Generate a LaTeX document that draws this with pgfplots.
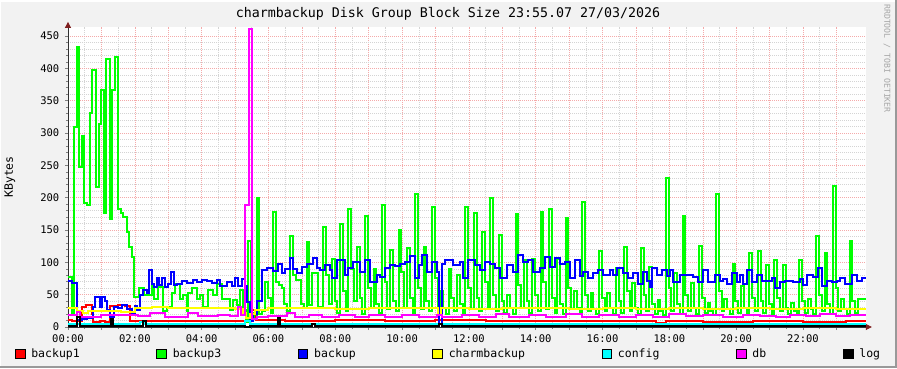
\documentclass[border=0pt]{standalone}
\usepackage{fontspec}
\setmainfont{DejaVu Sans Mono}
\usepackage{pgfplots}
\pgfplotsset{compat=1.18}
\usetikzlibrary{arrows.meta}
\definecolor{bg}{HTML}{F2F2F2}
\definecolor{mgrid}{HTML}{F4AAAA}
\definecolor{ngrid}{HTML}{D4D4D4}
\definecolor{arrowc}{HTML}{7F1F1F}
\definecolor{axisc}{HTML}{303030}
\definecolor{cred}{HTML}{FF0000}
\definecolor{cgreen}{HTML}{00FF00}
\definecolor{cblue}{HTML}{0000FF}
\definecolor{cyellow}{HTML}{FFFF00}
\definecolor{ccyan}{HTML}{00FFFF}
\definecolor{cmag}{HTML}{FF00FF}
\definecolor{cblack}{HTML}{000000}
\begin{document}
\begin{tikzpicture}[x=1pt,y=1pt]
\path[use as bounding box] (-68,-41) rectangle (829,327);
\fill[bg] (-68,-41) rectangle (829,327);
\draw[white, line width=1.5pt] (-67.25,-41) -- (-67.25,326.25) -- (829,326.25);
\draw[black!40, line width=2pt] (-68,-40) -- (828,-40) -- (828,327);
\begin{axis}[
  at={(0,0)}, anchor=south west,
  scale only axis, width=797.8pt, height=300.1pt,
  xmin=0, xmax=23.88, ymin=0, ymax=464,
  axis background/.style={fill=white},
  axis x line*=bottom, axis y line*=left,
  x axis line style={axisc, line width=0.8pt, shorten >=-6pt, -{Triangle[length=6pt,width=6pt,color=arrowc]}},
  y axis line style={axisc, line width=0.8pt, shorten >=-5pt, -{Triangle[length=6pt,width=6pt,color=arrowc]}},
  xtick={0,1,...,23},
  xticklabels={00:00,,02:00,,04:00,,06:00,,08:00,,10:00,,12:00,,14:00,,16:00,,18:00,,20:00,,22:00,},
  minor x tick num=1,
  ytick={0,50,...,450}, minor y tick num=4,
  grid=both,
  major grid style={mgrid, dash pattern=on 1pt off 1pt, line width=0.5pt},
  minor grid style={ngrid, dash pattern=on 1pt off 1pt, line width=0.5pt},
  tick align=outside, major tick length=3pt, minor tick length=2pt,
  tick style={black!50, line width=0.5pt},
  /pgf/number format/assume math mode=true,
  xticklabel style={anchor=base, yshift=-12pt, font=\fontsize{10.5}{12}\selectfont},
  yticklabel style={anchor=east, inner sep=0pt, xshift=-5.5pt, font=\fontsize{10.5}{12}\selectfont},
  every axis y label/.style={at={(axis description cs:-0.0727,0.5)}, rotate=90, anchor=center, font=\fontsize{11.5}{13}\selectfont},
  ylabel={KBytes},
  title={charmbackup Disk Group Block Size 23:55.07 27/03/2026},
  title style={at={(axis description cs:0.4763,1.0097)}, anchor=base, inner sep=0pt, font=\fontsize{13.3}{16}\selectfont},
  legend columns=7,
  legend cell align=left,
  legend image code/.code={\draw[#1, draw=black, line width=0.8pt] (0pt,-4.7pt) rectangle (9.5pt,4.7pt);},
  legend style={at={(axis description cs:-0.0664,-0.09)}, anchor=west, draw=none, fill=none,
    inner sep=0pt, outer sep=0pt, font=\fontsize{11.5}{13}\selectfont, nodes={inner sep=0pt},
    column sep=0pt,
    /tikz/every odd column/.append style={column sep=6pt},
    /tikz/every even column/.append style={column sep=76.7pt}},
  every axis plot/.append style={const plot, line width=2pt, forget plot},
]
\addlegendimage{fill=cred}\addlegendentry{backup1}
\addlegendimage{fill=cgreen}\addlegendentry{backup3}
\addlegendimage{fill=cblue}\addlegendentry{backup}
\addlegendimage{fill=cyellow}\addlegendentry{charmbackup}
\addlegendimage{fill=ccyan}\addlegendentry{config}
\addlegendimage{fill=cmag}\addlegendentry{db}
\addlegendimage{fill=cblack}\addlegendentry{log}

% backup1
\addplot[cred] coordinates {(0,11) (0.13,9) (0.41,31) (0.55,34) (0.71,20) (0.76,8) (0.95,10) (1.1,8) (1.26,32) (1.5,34) (1.7,32) (1.86,9) (2.3,10) (3.0,9) (4.0,10) (4.6,9) (5.3,10) (5.52,27) (5.62,11) (6.5,10) (8.0,11) (9.5,10) (11.0,11) (12.5,10) (14.0,9) (15.5,10) (17.0,9) (17.6,6) (17.9,9) (19.0,8) (20.5,9) (22.0,8) (23.3,10) (23.88,10)};

% backup3
\addplot[cgreen] coordinates {
(0,78) (0.11,21) (0.18,309) (0.26,433) (0.33,248) (0.41,295) (0.49,192) (0.58,189) (0.66,331) (0.73,398) (0.84,217) (0.93,314) (1.0,367) (1.07,177) (1.15,414) (1.25,167) (1.33,367) (1.41,417) (1.51,182) (1.59,177) (1.66,170) (1.76,147) (1.83,124) (1.91,109) (1.98,47)
(2.135,61) (2.275,50) (2.505,66) (2.574,44) (2.704,62) (2.853,24) (2.953,31) (3.103,52) (3.203,67) (3.352,44) (3.432,50) (3.552,24) (3.601,52) (3.701,60) (3.851,44) (3.951,50) (4.05,31) (4.2,57) (4.35,50) (4.45,67) (4.6,44) (4.849,26) (4.949,41) (5.049,34) (5.148,57) (5.248,26) (5.33,8)
(5.395,133) (5.478,22) (5.562,12)
(5.645,200) (5.728,20) (5.812,25)
(5.895,70) (5.978,45) (6.062,22)
(6.145,178) (6.228,70) (6.312,65)
(6.395,61) (6.478,36) (6.562,25)
(6.645,141) (6.728,80) (6.812,72)
(6.895,72) (6.978,36) (7.062,30)
(7.145,132) (7.228,34) (7.312,84)
(7.395,84) (7.478,31) (7.562,31)
(7.645,154) (7.728,80) (7.812,35)
(7.895,105) (7.978,40) (8.062,22)
(8.145,160) (8.228,55) (8.312,25)
(8.395,183) (8.478,90) (8.562,40)
(8.645,123) (8.728,45) (8.812,20)
(8.895,172) (8.978,60) (9.062,30)
(9.145,90) (9.228,35) (9.312,22)
(9.395,189) (9.478,70) (9.562,28)
(9.645,119) (9.728,40) (9.812,25)
(9.895,150) (9.978,85) (10.062,30)
(10.145,122) (10.228,45) (10.312,22)
(10.395,205) (10.478,60) (10.562,28)
(10.645,124) (10.728,40) (10.812,24)
(10.895,186) (10.978,75) (11.062,30)
(11.145,55) (11.228,30) (11.312,20)
(11.395,90) (11.478,45) (11.562,25)
(11.645,80) (11.728,35) (11.812,22)
(11.895,186) (11.978,60) (12.062,28)
(12.145,176) (12.228,45) (12.312,24)
(12.395,147) (12.478,70) (12.562,30)
(12.645,199) (12.728,50) (12.812,25)
(12.895,142) (12.978,40) (13.062,22)
(13.145,50) (13.228,30) (13.312,20)
(13.395,174) (13.478,65) (13.562,30)
(13.645,104) (13.728,40) (13.812,22)
(13.895,105) (13.978,50) (14.062,25)
(14.145,178) (14.228,70) (14.312,28)
(14.395,183) (14.478,45) (14.562,22)
(14.645,105) (14.728,35) (14.812,20)
(14.895,169) (14.978,60) (15.062,28)
(15.145,55) (15.228,30) (15.312,22)
(15.395,194) (15.478,50) (15.562,25)
(15.645,52) (15.728,28) (15.812,20)
(15.895,118) (15.978,45) (16.062,24)
(16.145,52) (16.228,30) (16.312,20)
(16.395,92) (16.478,40) (16.562,22)
(16.645,123) (16.728,55) (16.812,25)
(16.895,68) (16.978,30) (17.062,20)
(17.145,122) (17.228,50) (17.312,24)
(17.395,93) (17.478,35) (17.562,20)
(17.645,41) (17.728,25) (17.812,18)
(17.895,231) (17.978,60) (18.062,25)
(18.145,83) (18.228,35) (18.312,20)
(18.395,172) (18.478,50) (18.562,24)
(18.645,68) (18.728,30) (18.812,20)
(18.895,126) (18.978,45) (19.062,22)
(19.145,37) (19.228,25) (19.312,18)
(19.395,206) (19.478,55) (19.562,24)
(19.645,44) (19.728,28) (19.812,20)
(19.895,97) (19.978,40) (20.062,22)
(20.145,64) (20.228,30) (20.312,20)
(20.395,115) (20.478,45) (20.562,24)
(20.645,117) (20.728,40) (20.812,22)
(20.895,96) (20.978,35) (21.062,20)
(21.145,103) (21.228,45) (21.312,24)
(21.395,96) (21.478,30) (21.562,20)
(21.645,37) (21.728,25) (21.812,18)
(21.895,103) (21.978,40) (22.062,22)
(22.145,43) (22.228,28) (22.312,20)
(22.395,140) (22.478,50) (22.562,24)
(22.645,115) (22.728,35) (22.812,20)
(22.895,218) (22.978,60) (23.062,25)
(23.145,43) (23.228,28) (23.312,20)
(23.395,133) (23.478,40) (23.562,22)
(23.645,43) (23.88,43)};

% backup
\addplot[cblue] coordinates {
(0,71) (0.11,68) (0.28,11) (0.41,13) (0.58,14) (0.74,31) (0.81,47) (0.96,31) (1.01,47) (1.11,40) (1.18,26) (1.26,15) (1.38,31) (1.51,29) (1.61,34) (1.76,28) (1.91,21) (2.0,33) (2.07,26) (2.16,49) (2.24,57) (2.36,52) (2.42,88) (2.5,67) (2.57,62) (2.65,75) (2.73,65) (2.8,75) (2.9,62) (2.98,67) (3.07,85) (3.17,65) (3.25,67) (3.4,71) (3.55,68) (3.73,72) (3.85,70) (4.0,73) (4.15,71) (4.3,68) (4.45,72) (4.55,64) (4.75,70) (4.9,64) (5.0,75) (5.1,64) (5.2,74) (5.3,64) (5.35,38) (5.45,10) (5.55,20) (5.65,40) (5.8,88) (5.95,91) (6.14,86) (6.29,98) (6.4,84) (6.5,90) (6.64,107) (6.74,90) (6.85,83)
(6.99,93) (7.14,98) (7.34,106) (7.44,92) (7.54,88) (7.69,96) (7.84,88) (7.89,75) (8.04,103) (8.29,80) (8.39,91) (8.54,101) (8.74,85) (8.89,103) (9.04,70) (9.24,80) (9.34,77) (9.49,91) (9.64,96) (9.79,94) (9.94,98) (10.09,101) (10.24,110) (10.39,75) (10.52,96) (10.59,111) (10.74,85) (10.89,101) (11.04,85) (11.11,5) (11.19,98) (11.28,103) (11.53,96) (11.73,101) (11.83,75) (11.98,103) (12.18,96) (12.33,88) (12.48,101) (12.63,98) (12.78,91) (12.93,75) (13.13,96) (13.33,85) (13.48,111) (13.63,101) (13.78,103) (13.93,85) (14.13,91) (14.28,108) (14.43,93) (14.58,106) (14.73,98) (14.88,101) (15.03,75) (15.17,103) (15.32,79) (15.42,85) (15.57,75)
(15.72,83) (15.87,88) (16.02,80) (16.22,88) (16.32,80) (16.42,91) (16.62,83) (16.77,75) (16.92,83) (17.07,67) (17.22,85) (17.32,71) (17.42,62) (17.47,91) (17.62,80) (17.77,88) (17.92,79) (18.02,88) (18.12,70) (18.32,80) (18.52,80) (18.72,78) (18.87,70) (19.02,88) (19.17,70) (19.37,80) (19.52,71) (19.62,74) (19.72,67) (19.87,83) (20.01,70) (20.11,80) (20.21,67) (20.31,88) (20.46,70) (20.61,80) (20.76,71) (20.96,71) (21.06,75) (21.16,60) (21.31,70) (21.46,71) (21.71,70) (21.91,74) (22.01,65) (22.11,80) (22.31,78) (22.46,92) (22.56,63) (22.71,71) (22.86,70) (23.01,71) (23.11,75) (23.26,67) (23.46,80) (23.61,71) (23.76,75) (23.88,75)};

% charmbackup
\addplot[cyellow] coordinates {(0,30) (0.28,24) (0.45,22) (0.6,24) (1.0,25) (1.6,23) (2.02,30) (2.5,31) (3.0,29) (3.5,30) (4.0,29) (4.5,30) (5.0,28) (5.25,22) (5.33,14) (5.45,20) (5.6,27) (6.0,29) (7.0,30) (8.0,28) (9.0,29) (10.0,30) (11.08,18) (11.16,29) (12.0,28) (13.0,29) (14.0,30) (15.0,28) (16.0,29) (17.0,28) (18.0,29) (19.0,28) (20.0,29) (21.0,28) (22.0,29) (23.0,28) (23.88,28)};

% config
\addplot[ccyan] coordinates {(0,5) (2.15,8) (2.27,5) (5.3,10) (5.45,5) (23.88,5)};

% db
\addplot[cmag] coordinates {(0,18) (0.28,23) (0.37,16) (1.0,18) (1.5,19) (2.1,17) (2.45,21) (2.9,16) (3.6,21) (3.9,17) (4.5,19) (4.85,17) (5.09,31) (5.18,18) (5.3,188) (5.42,461) (5.51,12) (5.65,15) (6.0,17) (6.55,21) (6.8,15) (7.2,19) (7.6,15) (8.1,18) (8.6,15) (9.0,19) (9.5,16) (10.0,18) (10.5,15) (11.05,19) (11.2,15) (11.8,18) (12.3,16) (12.8,20) (13.2,16) (13.8,19) (14.3,16) (14.9,20) (15.4,16) (15.9,18) (16.5,15) (17.0,19) (17.5,16) (18.0,20) (18.5,17) (19.0,19) (19.6,16) (20.2,19) (20.7,17) (21.2,15) (21.6,19) (22.1,17) (22.5,20) (23.0,17) (23.4,19) (23.88,18)};

% log
\addplot[cblack] coordinates {(0,1) (0.27,16) (0.36,1) (1.28,12) (1.35,1) (2.25,9) (2.33,1) (5.3,0) (5.45,1) (6.29,14) (6.36,1) (7.3,4) (7.38,1) (11.1,4) (11.18,1) (23.88,1)};
\end{axis}
\node[rotate=-90, text=black!35, font=\fontsize{8.2}{9}\selectfont, inner sep=0pt] at (819,268.5) {RRDTOOL / TOBI OETIKER};
\end{tikzpicture}
\end{document}
